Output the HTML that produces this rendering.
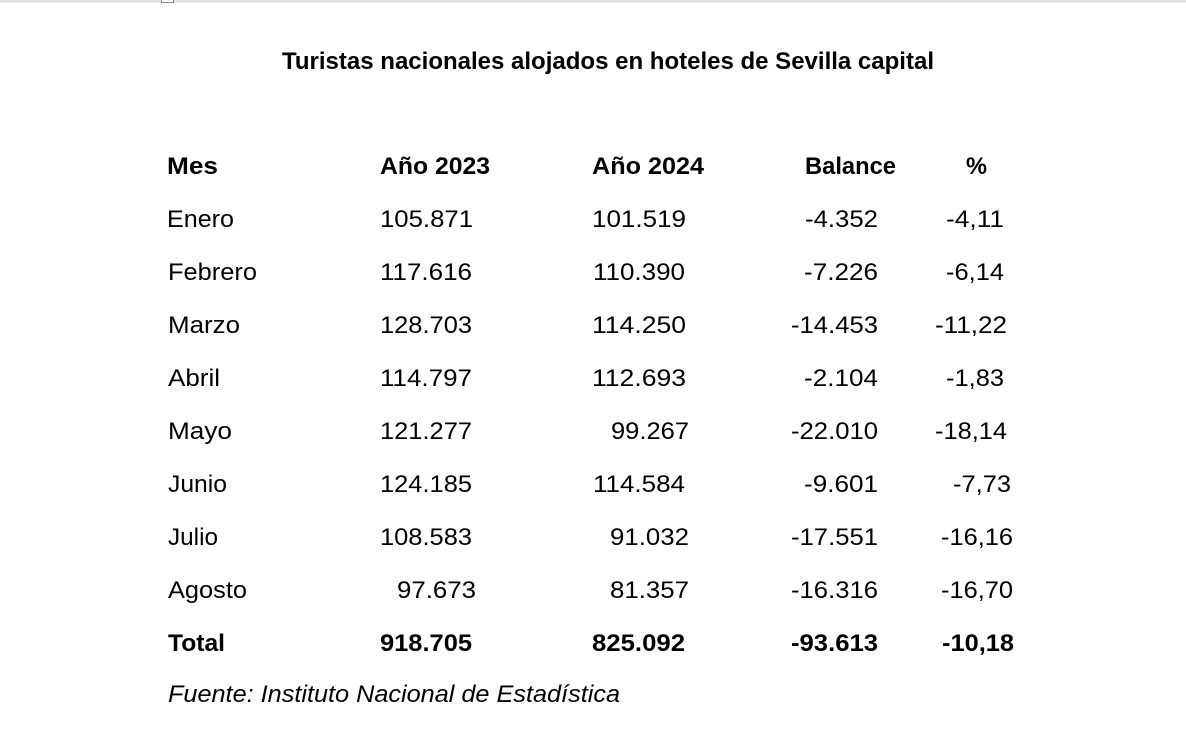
<!DOCTYPE html>
<html>
<head>
<meta charset="utf-8">
<style>
html,body{margin:0;padding:0;background:#fff;}
svg{display:block;}
text{font-family:"Liberation Sans",Arial,sans-serif;fill:#000;}
.b{font-size:24.5px;}
.bd{font-size:24.5px;font-weight:bold;}
.it{font-size:24.5px;font-style:italic;}
.t{font-size:24.5px;font-weight:bold;}
</style>
</head>
<body>
<svg width="1186" height="742" viewBox="0 0 1186 742" xmlns="http://www.w3.org/2000/svg">
<rect x="0" y="0" width="1186" height="742" fill="#fff"/>
<rect x="0" y="0" width="1186" height="2.7" fill="#e1e1e1"/>
<rect x="161.5" y="-5" width="12" height="7.5" fill="#fff" stroke="#8c8c8c" stroke-width="1"/>

<text class="t" x="282" y="69" textLength="652" lengthAdjust="spacingAndGlyphs">Turistas nacionales alojados en hoteles de Sevilla capital</text>

<!-- header -->
<text class="bd" x="167" y="174" textLength="51" lengthAdjust="spacingAndGlyphs">Mes</text>
<text class="bd" x="380" y="174" textLength="110" lengthAdjust="spacingAndGlyphs">Año 2023</text>
<text class="bd" x="592" y="174" textLength="112" lengthAdjust="spacingAndGlyphs">Año 2024</text>
<text class="bd" x="805" y="174" textLength="91" lengthAdjust="spacingAndGlyphs">Balance</text>
<text class="bd" x="966" y="174" textLength="21" lengthAdjust="spacingAndGlyphs">%</text>

<!-- Enero -->
<text class="b" x="167" y="227" textLength="67" lengthAdjust="spacingAndGlyphs">Enero</text>
<text class="b" x="380" y="227" textLength="93" lengthAdjust="spacingAndGlyphs">105.871</text>
<text class="b" x="592" y="227" textLength="94" lengthAdjust="spacingAndGlyphs">101.519</text>
<text class="b" x="805" y="227" textLength="73" lengthAdjust="spacingAndGlyphs">-4.352</text>
<text class="b" x="946" y="227" textLength="58" lengthAdjust="spacingAndGlyphs">-4,11</text>

<!-- Febrero -->
<text class="b" x="168" y="280" textLength="89" lengthAdjust="spacingAndGlyphs">Febrero</text>
<text class="b" x="380" y="280" textLength="92" lengthAdjust="spacingAndGlyphs">117.616</text>
<text class="b" x="593" y="280" textLength="92" lengthAdjust="spacingAndGlyphs">110.390</text>
<text class="b" x="804" y="280" textLength="74" lengthAdjust="spacingAndGlyphs">-7.226</text>
<text class="b" x="946" y="280" textLength="58" lengthAdjust="spacingAndGlyphs">-6,14</text>

<!-- Marzo -->
<text class="b" x="168" y="333" textLength="72" lengthAdjust="spacingAndGlyphs">Marzo</text>
<text class="b" x="380" y="333" textLength="92" lengthAdjust="spacingAndGlyphs">128.703</text>
<text class="b" x="592" y="333" textLength="94" lengthAdjust="spacingAndGlyphs">114.250</text>
<text class="b" x="791" y="333" textLength="87" lengthAdjust="spacingAndGlyphs">-14.453</text>
<text class="b" x="935" y="333" textLength="72" lengthAdjust="spacingAndGlyphs">-11,22</text>

<!-- Abril -->
<text class="b" x="168" y="386" textLength="52" lengthAdjust="spacingAndGlyphs">Abril</text>
<text class="b" x="380" y="386" textLength="92" lengthAdjust="spacingAndGlyphs">114.797</text>
<text class="b" x="592" y="386" textLength="94" lengthAdjust="spacingAndGlyphs">112.693</text>
<text class="b" x="804" y="386" textLength="74" lengthAdjust="spacingAndGlyphs">-2.104</text>
<text class="b" x="946" y="386" textLength="58" lengthAdjust="spacingAndGlyphs">-1,83</text>

<!-- Mayo -->
<text class="b" x="168" y="439" textLength="64" lengthAdjust="spacingAndGlyphs">Mayo</text>
<text class="b" x="380" y="439" textLength="92" lengthAdjust="spacingAndGlyphs">121.277</text>
<text class="b" x="611" y="439" textLength="78" lengthAdjust="spacingAndGlyphs">99.267</text>
<text class="b" x="791" y="439" textLength="87" lengthAdjust="spacingAndGlyphs">-22.010</text>
<text class="b" x="935" y="439" textLength="72" lengthAdjust="spacingAndGlyphs">-18,14</text>

<!-- Junio -->
<text class="b" x="168" y="492" textLength="59" lengthAdjust="spacingAndGlyphs">Junio</text>
<text class="b" x="380" y="492" textLength="92" lengthAdjust="spacingAndGlyphs">124.185</text>
<text class="b" x="593" y="492" textLength="92" lengthAdjust="spacingAndGlyphs">114.584</text>
<text class="b" x="804" y="492" textLength="74" lengthAdjust="spacingAndGlyphs">-9.601</text>
<text class="b" x="953" y="492" textLength="58" lengthAdjust="spacingAndGlyphs">-7,73</text>

<!-- Julio -->
<text class="b" x="168" y="545" textLength="50" lengthAdjust="spacingAndGlyphs">Julio</text>
<text class="b" x="380" y="545" textLength="92" lengthAdjust="spacingAndGlyphs">108.583</text>
<text class="b" x="610" y="545" textLength="79" lengthAdjust="spacingAndGlyphs">91.032</text>
<text class="b" x="791" y="545" textLength="87" lengthAdjust="spacingAndGlyphs">-17.551</text>
<text class="b" x="941" y="545" textLength="72" lengthAdjust="spacingAndGlyphs">-16,16</text>

<!-- Agosto -->
<text class="b" x="168" y="598" textLength="79" lengthAdjust="spacingAndGlyphs">Agosto</text>
<text class="b" x="397" y="598" textLength="79" lengthAdjust="spacingAndGlyphs">97.673</text>
<text class="b" x="610" y="598" textLength="79" lengthAdjust="spacingAndGlyphs">81.357</text>
<text class="b" x="791" y="598" textLength="87" lengthAdjust="spacingAndGlyphs">-16.316</text>
<text class="b" x="941" y="598" textLength="72" lengthAdjust="spacingAndGlyphs">-16,70</text>

<!-- Total -->
<text class="bd" x="168" y="651" textLength="57" lengthAdjust="spacingAndGlyphs">Total</text>
<text class="bd" x="380" y="651" textLength="92" lengthAdjust="spacingAndGlyphs">918.705</text>
<text class="bd" x="592" y="651" textLength="93" lengthAdjust="spacingAndGlyphs">825.092</text>
<text class="bd" x="791" y="651" textLength="87" lengthAdjust="spacingAndGlyphs">-93.613</text>
<text class="bd" x="942" y="651" textLength="72" lengthAdjust="spacingAndGlyphs">-10,18</text>

<!-- Fuente -->
<text class="it" x="168" y="702" textLength="452" lengthAdjust="spacingAndGlyphs">Fuente: Instituto Nacional de Estadística</text>
</svg>
</body>
</html>
